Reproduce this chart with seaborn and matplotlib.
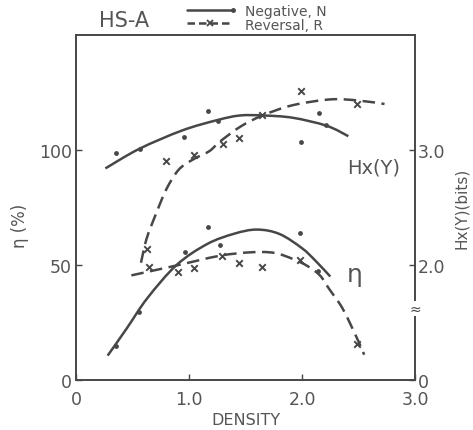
import matplotlib
matplotlib.use("Agg")
import matplotlib.pyplot as plt
from matplotlib.path import Path
from matplotlib.patches import PathPatch
import seaborn as sns
import pandas as pd

# ---- measured points -------------------------------------------------------
# Hx(Y) in bits, negative process (N)
hx_n_density = [0.35, 0.57, 0.96, 1.17, 1.26, 1.99, 2.15, 2.21]
hx_n_bits = [2.97, 3.01, 3.11, 3.34, 3.25, 3.07, 3.32, 3.22]
# Hx(Y) in bits, reversal process (R)
hx_r_density = [0.63, 0.80, 1.04, 1.30, 1.44, 1.65, 1.99, 2.49]
hx_r_bits = [2.14, 2.90, 2.96, 3.05, 3.10, 3.30, 3.51, 3.40]
# efficiency eta (%), negative
eta_n_density = [0.35, 0.56, 0.965, 1.165, 1.27, 1.98, 2.14]
eta_n_pct = [14.6, 29.4, 55.5, 66.4, 58.8, 63.9, 47.3]
# efficiency eta (%), reversal
eta_r_density = [0.65, 0.905, 1.04, 1.29, 1.44, 1.65, 1.98, 2.49]
eta_r_pct = [49.0, 47.1, 48.5, 54.0, 50.7, 49.3, 52.3, 15.6]

# ---- hand-fitted trend curves (knots) --------------------------------------
hx_n_fit_x = [0.26, 0.56, 0.94, 1.25, 1.45, 1.66, 1.92, 2.22, 2.41]
hx_n_fit_y = [2.84, 3.01, 3.17, 3.26, 3.30, 3.30, 3.28, 3.21, 3.12]
hx_r_fit_x = [0.575, 0.625, 0.714, 0.80, 0.91, 1.04, 1.18, 1.27,
              1.45, 1.65, 1.92, 2.25, 2.50, 2.73]
hx_r_fit_y = [2.02, 2.23, 2.46, 2.66, 2.83, 2.92, 2.99, 3.07,
              3.20, 3.30, 3.39, 3.44, 3.43, 3.40]
eta_n_fit_x = [0.28, 0.45, 0.63, 0.89, 1.16, 1.40, 1.60, 1.80, 2.00, 2.12, 2.25]
eta_n_fit_y = [10.6, 22.5, 35.5, 50.0, 59.1, 63.6, 65.4, 63.5, 57.3, 51.8, 45.0]
eta_r_fit_x = [0.49, 0.89, 1.27, 1.54, 1.75, 1.92, 2.05, 2.16, 2.24, 2.36,
               2.49, 2.55]
eta_r_fit_y = [45.5, 49.8, 54.0, 55.5, 55.3, 52.6, 49.5, 45.4, 39.6, 31.0,
               17.8, 11.0]

x_ticks = [0, 1.0, 2.0, 3.0]
x_tick_labels = ["0", "1.0", "2.0", "3.0"]
eta_ticks = [0, 50, 100]
eta_tick_labels = ["0", "50", "100"]
hx_ticks = [1.0, 2.0, 3.0]
hx_tick_labels = ["0", "2.0", "3.0"]

INK = "#474747"
TXT = "#555555"
DASH = (0, (5, 2.6))


def smooth_curve(ax, xs, ys, dashed=False):
    """Draw a smooth Catmull-Rom style curve through the knots as cubic Beziers."""
    pts = list(zip(xs, ys))
    ext = [pts[0]] + pts + [pts[-1]]
    verts = [pts[0]]
    codes = [Path.MOVETO]
    for i in range(1, len(ext) - 2):
        p0, p1, p2, p3 = ext[i - 1], ext[i], ext[i + 1], ext[i + 2]
        c1 = (p1[0] + (p2[0] - p0[0]) / 6, p1[1] + (p2[1] - p0[1]) / 6)
        c2 = (p2[0] - (p3[0] - p1[0]) / 6, p2[1] - (p3[1] - p1[1]) / 6)
        verts += [c1, c2, p2]
        codes += [Path.CURVE4] * 3
    patch = PathPatch(Path(verts, codes), fill=False, edgecolor=INK, linewidth=1.8,
                      linestyle=DASH if dashed else "-", capstyle="butt",
                      transform=ax.transData)
    ax.add_patch(patch)


sns.set_style("ticks")
plt.rcParams["font.family"] = ["DejaVu Sans"]

fig = plt.figure(figsize=(4.73, 4.31), dpi=100)
ax = fig.add_axes([0.1607, 0.116, 0.7167, 0.8005])
ax2 = ax.twinx()

# eta (%) on the left axis
smooth_curve(ax, eta_n_fit_x, eta_n_fit_y)
smooth_curve(ax, eta_r_fit_x, eta_r_fit_y, dashed=True)
sns.scatterplot(data=pd.DataFrame({"x": eta_n_density, "y": eta_n_pct}), x="x", y="y",
                ax=ax, marker="o", s=12, color=INK, edgecolor=INK, linewidth=0, zorder=3)
sns.scatterplot(data=pd.DataFrame({"x": eta_r_density, "y": eta_r_pct}), x="x", y="y",
                ax=ax, marker="x", s=22, color=INK, linewidth=1.4, zorder=3)

# Hx(Y) (bits) on the right axis
smooth_curve(ax2, hx_n_fit_x, hx_n_fit_y)
smooth_curve(ax2, hx_r_fit_x, hx_r_fit_y, dashed=True)
sns.scatterplot(data=pd.DataFrame({"x": hx_n_density, "y": hx_n_bits}), x="x", y="y",
                ax=ax2, marker="o", s=12, color=INK, edgecolor=INK, linewidth=0, zorder=3)
sns.scatterplot(data=pd.DataFrame({"x": hx_r_density, "y": hx_r_bits}), x="x", y="y",
                ax=ax2, marker="x", s=22, color=INK, linewidth=1.4, zorder=3)

ax.set_xlim(0, 3.0)
ax.set_ylim(0, 150)
ax2.set_ylim(1.0, 4.0)

ax.set_xticks(x_ticks)
ax.set_xticklabels(x_tick_labels)
ax.set_yticks(eta_ticks)
ax.set_yticklabels(eta_tick_labels)
ax2.set_yticks(hx_ticks)
ax2.set_yticklabels(hx_tick_labels)

for a in (ax, ax2):
    a.tick_params(direction="in", length=4, width=1, color=INK, labelcolor=TXT,
                  labelsize=12.5, pad=3)
    for s in a.spines.values():
        s.set_color(INK)
        s.set_linewidth(1.2)
ax.tick_params(axis="x", pad=7)
ax2.tick_params(axis="y", pad=2)

ax.set_xlabel("DENSITY", fontsize=11.5, color=TXT, labelpad=3)
ax.set_ylabel("η (%)", fontsize=12, color=TXT)
ax.yaxis.set_label_coords(-0.14, 0.45)
ax2.set_ylabel("Hx(Y)(bits)", fontsize=11, color=TXT)
ax2.yaxis.set_label_coords(1.115, 0.5)

# in-plot labels
ax.text(2.63, 92.6, "Hx(Y)", fontsize=14, color=TXT, ha="center", va="center")
ax.text(2.47, 46, "η", fontsize=18, color=TXT, ha="center", va="center")

# axis break on the right spine
ax2.text(1.0, 1.62, "≈", transform=ax2.get_yaxis_transform(),
         fontsize=10, color=INK, ha="center", va="center",
         bbox=dict(boxstyle="square,pad=0.05", fc="white", ec="none"))

# title and key above the frame
fig.text(99 / 473, 1 - 21 / 431, "HS-A", fontsize=15, color=TXT, va="center")
fig.lines.append(plt.Line2D([187 / 473, 233 / 473], [1 - 11 / 431] * 2,
                            transform=fig.transFigure, color=INK, lw=1.8,
                            marker="o", markersize=2.5, markevery=[1]))
lr = plt.Line2D([187 / 473, 210 / 473, 233 / 473], [1 - 24 / 431] * 3,
                transform=fig.transFigure, color=INK, lw=1.8, marker="x",
                markersize=4, markevery=[1], markeredgewidth=1.3)
lr.set_dashes((3, 1.6))
fig.lines.append(lr)
fig.text(245 / 473, 1 - 12 / 431, "Negative, N", fontsize=10, color=TXT, va="center")
fig.text(245 / 473, 1 - 26.5 / 431, "Reversal, R", fontsize=10, color=TXT, va="center")

fig.savefig("out.png", dpi=100)
